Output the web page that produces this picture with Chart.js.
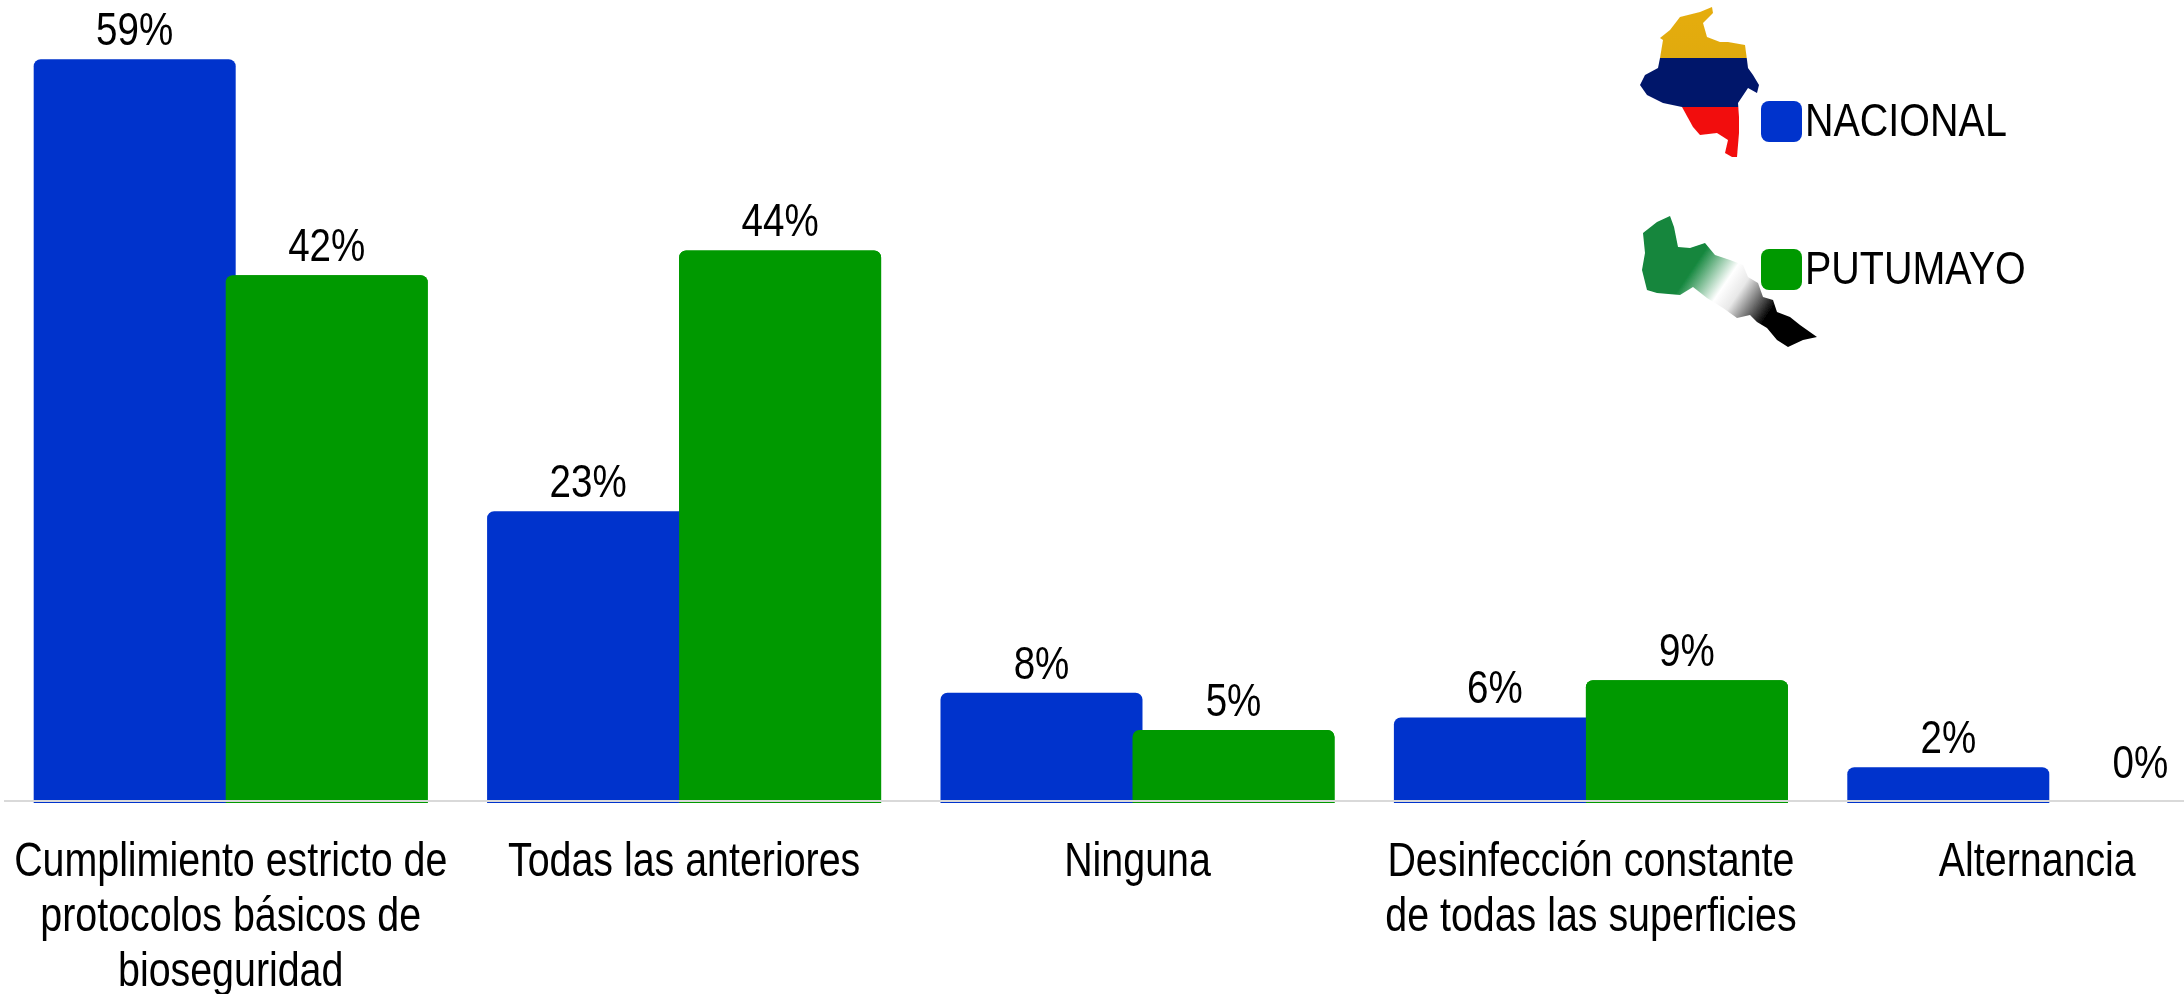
<!DOCTYPE html>
<html>
<head>
<meta charset="utf-8">
<title>Medidas de bioseguridad</title>
<script src="https://cdn.jsdelivr.net/npm/chart.js@4"></script>
<style>
  html, body { margin: 0; padding: 0; background: #fff; overflow: hidden; width: 2184px; height: 994px; }
  #wrap { position: absolute; left: 0; top: 0; width: 2276px; height: 994px; }
  #maps { position: absolute; left: 0; top: 0; }
  .key { position: absolute; left: 1761px; width: 41px; height: 41px; border-radius: 8px; }
  .key-label { position: absolute; left: 1805px; font: 47px/50px "Liberation Sans", sans-serif; color: #000; transform: scaleX(0.84); transform-origin: left center; white-space: nowrap; }
</style>
</head>
<body>
<div id="wrap"><canvas id="chart"></canvas></div>

<svg id="maps" width="2184" height="994" viewBox="0 0 2184 994">
  <defs>
    <filter id="soft"><feGaussianBlur stdDeviation="0.7"/></filter>
    <linearGradient id="flag" gradientUnits="userSpaceOnUse" x1="0" y1="5" x2="0" y2="160">
      <stop offset="0" stop-color="#e6ad10"/>
      <stop offset="0.34" stop-color="#e0aa0c"/>
      <stop offset="0.345" stop-color="#00156b"/>
      <stop offset="0.655" stop-color="#00156b"/>
      <stop offset="0.66" stop-color="#f21010"/>
      <stop offset="1" stop-color="#f21010"/>
    </linearGradient>
    <linearGradient id="depto" gradientUnits="userSpaceOnUse" x1="1690" y1="258" x2="1770" y2="312">
      <stop offset="0" stop-color="#12863c"/>
      <stop offset="0.08" stop-color="#12863c"/>
      <stop offset="0.45" stop-color="#ffffff"/>
      <stop offset="0.62" stop-color="#e8e8e8"/>
      <stop offset="1" stop-color="#000000"/>
    </linearGradient>
  </defs>
  <polygon id="colombia" filter="url(#soft)" fill="url(#flag)" points="1712,7 1713,13 1703,23 1707,37 1720,42 1728,42 1745,45 1747,60 1748,68 1753,75 1759,85 1757,93 1748,88 1738,103 1739,117 1739,133 1737,157 1732,157 1725,153 1728,140 1717,133 1700,135 1693,127 1682,107 1663,103 1647,95 1640,85 1645,75 1658,68 1660,58 1663,40 1660,38 1670,30 1680,17 1700,12"/>
  <polygon id="putumayo" filter="url(#soft)" fill="url(#depto)" points="1670,216 1674,227 1678,247 1690,248 1705,243 1715,255 1730,260 1743,265 1748,277 1758,283 1763,297 1773,300 1777,312 1790,317 1800,325 1817,337 1803,340 1788,347 1777,340 1767,328 1757,322 1750,315 1737,318 1723,308 1707,298 1693,287 1680,295 1657,293 1647,290 1642,270 1645,253 1643,233 1657,222"/>
</svg>

<script>
const categories = [
  ['Cumplimiento estricto de', 'protocolos básicos de', 'bioseguridad'],
  ['Todas las anteriores'],
  ['Ninguna'],
  ['Desinfección constante', 'de todas las superficies'],
  ['Alternancia']
]
const seriesNames = ['NACIONAL', 'PUTUMAYO']
const nacional = [59, 22.6, 8, 6, 2]
const putumayo = [41.6, 43.6, 5, 9, 0]
const seriesColors = ['#0033cc', '#009900']
const legendTops = [101, 249]

const chartFont = '"Liberation Sans", sans-serif'

// legend sits over the chart, next to the two maps
seriesNames.forEach((name, i) => {
  const box = document.createElement('div')
  box.className = 'key'
  box.style.top = legendTops[i] + 'px'
  box.style.background = seriesColors[i]
  document.body.appendChild(box)
  const text = document.createElement('div')
  text.className = 'key-label'
  text.style.top = (legendTops[i] - 6) + 'px'
  text.textContent = name
  document.body.appendChild(text)
})

// no narrow font installed, so squeeze Liberation Sans sideways
function narrowText(ctx, str, x, y, size) {
  ctx.save()
  ctx.translate(x, y)
  ctx.scale(0.82, 1)
  ctx.font = size + 'px ' + chartFont
  ctx.fillText(str, 0, 0)
  ctx.restore()
}

const barExtras = {
  id: 'barExtras',
  afterDatasetsDraw(chart) {
    const { ctx, chartArea, scales } = chart
    // green overlaps blue in the reference
    chart.getDatasetMeta(1).controller.draw()

    ctx.save()
    ctx.strokeStyle = '#d9d9d9'
    ctx.lineWidth = 2
    ctx.beginPath()
    ctx.moveTo(chartArea.left, chartArea.bottom - 2)
    ctx.lineTo(chartArea.right, chartArea.bottom - 2)
    ctx.stroke()

    ctx.fillStyle = '#000'
    ctx.textAlign = 'center'
    ctx.textBaseline = 'alphabetic'
    chart.data.datasets.forEach((ds, d) => {
      chart.getDatasetMeta(d).data.forEach((bar, i) => {
        const y = scales.y.getPixelForValue(ds.data[i])
        narrowText(ctx, Math.round(ds.data[i]) + '%', bar.x, y - 14, 47)
      })
    })

    chart.data.labels.forEach((lines, i) => {
      // last label sits a little left of its group in the reference
      const x = scales.x.getPixelForValue(i) - (i === 4 ? 7 : 0)
      lines.forEach((line, n) => {
        narrowText(ctx, line, x, chartArea.bottom + 73 + n * 55, 48)
      })
    })
    ctx.restore()
  }
}

const baseValue = -0.886
const hideZero = color => c => (c.raw === 0 ? 'transparent' : color)

new Chart(document.getElementById('chart'), {
  type: 'bar',
  data: {
    labels: categories,
    datasets: [{
      label: seriesNames[0],
      data: nacional,
      backgroundColor: hideZero(seriesColors[0]),
      base: baseValue
    }, {
      label: seriesNames[1],
      data: putumayo,
      backgroundColor: hideZero(seriesColors[1]),
      base: baseValue
    }]
  },
  options: {
    responsive: true,
    maintainAspectRatio: false,
    animation: false,
    layout: { padding: { left: 4, right: 5, top: 9, bottom: 0 } },
    categoryPercentage: 0.847,
    barPercentage: 1.052,
    borderRadius: { topLeft: 7, topRight: 7, bottomLeft: 0, bottomRight: 0 },
    borderSkipped: false,
    plugins: { legend: { display: false }, tooltip: { enabled: false } },
    scales: {
      x: {
        grid: { display: false },
        border: { display: false },
        afterFit(scale) { scale.height = 191 },
        ticks: { display: false }
      },
      y: {
        display: false,
        min: baseValue,
        max: 63.04
      }
    }
  },
  plugins: [barExtras]
})
</script>
</body>
</html>
